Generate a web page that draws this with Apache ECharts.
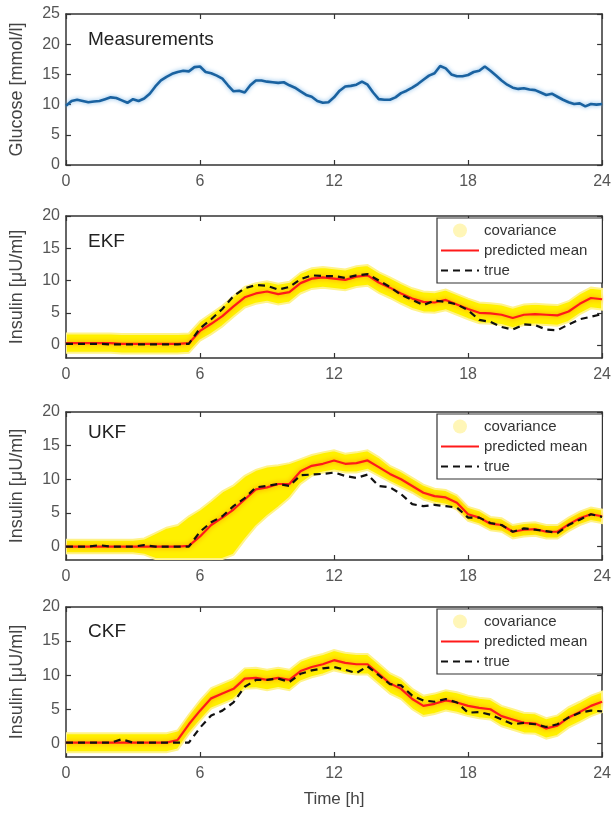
<!DOCTYPE html>
<html><head><meta charset="utf-8">
<script src="https://cdn.jsdelivr.net/npm/echarts@6/dist/echarts.min.js"></script>
<style>html,body{margin:0;padding:0;background:#fff}#c{width:614px;height:820px}</style>
</head><body><div id="c"></div>
<script>
// ---------------- DATA ----------------
const timeQ = [0,0.25,0.5,0.75,1,1.25,1.5,1.75,2,2.25,2.5,2.75,3,3.25,3.5,3.75,4,4.25,4.5,4.75,5,5.25,5.5,5.75,6,6.25,6.5,6.75,7,7.25,7.5,7.75,8,8.25,8.5,8.75,9,9.25,9.5,9.75,10,10.25,10.5,10.75,11,11.25,11.5,11.75,12,12.25,12.5,12.75,13,13.25,13.5,13.75,14,14.25,14.5,14.75,15,15.25,15.5,15.75,16,16.25,16.5,16.75,17,17.25,17.5,17.75,18,18.25,18.5,18.75,19,19.25,19.5,19.75,20,20.25,20.5,20.75,21,21.25,21.5,21.75,22,22.25,22.5,22.75,23,23.25,23.5,23.75,24];
const glucose = [9.8,10.6,10.8,10.6, 10.4,10.5,10.6,10.9, 11.2,11.1,10.7,10.3, 10.9,10.6,11.0,11.8, 13.0,14.0,14.6,15.1, 15.4,15.6,15.5,16.2, 16.3,15.4,15.2,14.8, 14.3,13.2,12.2,12.3, 12.0,13.2,14.0,14.0, 13.8,13.7,13.6,13.7, 13.2,12.8,12.2,11.6, 11.3,10.6,10.3,10.4, 11.2,12.3,13.0,13.1, 13.3,13.8,13.3,12.0, 10.9,10.8,10.8,11.2, 11.9,12.3,12.8,13.4, 14.1,14.8,15.2,16.4, 16.0,15.0,14.7,14.7, 14.9,15.4,15.6,16.3, 15.6,14.8,14.0,13.3, 12.8,12.6,12.7,12.5, 12.4,12.0,11.6,11.8, 11.3,10.8,10.4,10.1, 10.2,9.7,10.1,10.0, 10.1];

const timeH = [0,0.5,1,1.5,2,2.5,3,3.5,4,4.5,5,5.5,6,6.5,7,7.5,8,8.5,9,9.5,10,10.5,11,11.5,12,12.5,13,13.5,14,14.5,15,15.5,16,16.5,17,17.5,18,18.5,19,19.5,20,20.5,21,21.5,22,22.5,23,23.5,24];

const ekfMean = [0.3,0.3,0.3,0.3,0.3,0.2,0.2,0.2,0.2,0.2,0.2,0.3, 2.2,3.3,4.5,6.0,7.4,8.0,8.3,7.9,8.2,9.6,10.3,10.5, 10.3,10.1,10.6,10.8,9.7,8.9,8.0,7.2,6.7,6.6,7.0,6.3, 5.6,5.0,4.9,4.7,4.2,4.7,4.8,4.7,4.6,5.2,6.4,7.3, 7.1];
const ekfTrue = [0.2,0.2,0.2,0.2,0.1,0.1,0.1,0.1,0.1,0.1,0.1,0.2, 2.6,4.0,5.6,7.6,8.8,9.3,9.2,8.6,9.0,10.2,10.8,10.7, 10.7,10.4,10.8,11.0,10.0,9.0,7.8,7.0,6.2,6.9,6.7,6.3, 5.4,3.9,3.6,2.8,2.4,3.2,3.1,2.4,2.3,3.2,4.0,4.4, 4.8];
const ekfCovHalf = [1.5,1.5,1.5,1.5,1.5,1.5,1.5,1.5,1.5,1.5,1.5,1.5, 1.5,1.6,1.6,1.6,1.6,1.6,1.6,1.6,1.6,1.6,1.6,1.6, 1.6,1.6,1.6,1.6,1.6,1.6,1.6,1.6,1.6,1.6,1.6,1.6, 1.6,1.6,1.6,1.6,1.6,1.6,1.6,1.6,1.6,1.6,1.6,1.6, 1.6];

const ukfMean = [0.0,0.0,0.0,0.0,0.0,0.0,0.0,0.0,0.0,0.0,0.0,0.1, 1.5,3.2,4.3,5.5,7.0,8.5,8.8,9.3,9.3,11.2,12.0,12.3, 12.8,12.3,12.4,12.8,11.8,10.8,10.0,9.0,8.0,7.5,7.3,6.5, 4.8,4.3,3.4,3.2,2.2,2.5,2.6,2.2,2.2,3.3,4.2,4.8, 4.5];
const ukfTrue = [0.0,0.0,0.0,0.2,0.0,0.0,0.0,0.2,0.0,0.0,0.0,0.0, 2.2,3.6,4.5,6.0,7.2,8.8,9.0,9.3,9.0,10.6,10.7,10.8, 11.0,10.5,10.2,10.7,9.0,8.8,7.8,6.3,6.0,6.2,6.0,5.8, 4.3,4.3,3.5,3.2,2.2,2.7,2.5,2.3,2.0,3.2,4.0,4.8, 4.4];
const ukfCovLow = [-1.0,-1.0,-1.0,-1.0,-1.0,-1.0,-1.0,-1.2,-2.0,-2.5,-3.0,-3.0, -3.0,-2.5,-2.0,-1.2,1.0,3.0,4.5,5.8,7.2,9.3,10.5,11.0, 11.3,11.0,11.0,11.4,10.5,9.6,8.8,8.0,7.0,6.5,6.2,5.5, 3.8,3.3,2.4,2.2,1.2,1.5,1.6,1.2,1.2,2.3,3.2,3.8, 3.5];
const ukfCovHigh = [1.0,1.0,1.0,1.0,1.0,1.0,1.0,1.2,2.0,2.8,3.2,4.5, 5.5,6.8,8.2,9.1,10.5,11.4,11.9,12.1,12.4,13.0,13.6,14.0, 14.3,13.8,14.0,14.3,13.3,12.0,11.2,10.2,9.2,8.6,8.4,7.6, 5.9,5.4,4.4,4.2,3.2,3.5,3.6,3.2,3.2,4.3,5.2,5.8, 5.5];

const ckfMean = [0.1,0.1,0.1,0.1,0.1,0.1,0.1,0.1,0.1,0.1,0.5,2.8, 4.8,6.6,7.3,8.0,9.5,9.6,9.3,9.6,9.3,10.6,11.2,11.6, 12.2,11.8,11.6,11.6,10.2,8.8,8.0,6.5,5.5,5.8,6.3,6.0, 5.5,5.2,5.0,4.0,3.5,3.0,2.9,2.2,2.6,3.8,4.6,5.5, 6.1];
const ckfTrue = [0.1,0.1,0.1,0.1,0.1,0.6,0.1,0.1,0.1,0.1,0.1,0.1, 2.3,4.1,4.8,6.0,8.3,9.3,9.3,9.5,9.0,10.2,10.7,11.0, 11.2,10.8,10.3,11.3,10.0,8.7,8.5,7.0,6.3,6.1,6.5,6.0, 4.5,4.6,4.2,3.5,2.8,3.0,2.8,2.4,2.8,3.8,4.5,4.8, 4.7];
const ckfCovHalf = [1.4,1.4,1.4,1.4,1.4,1.4,1.4,1.4,1.4,1.4,1.4,1.4, 1.5,1.5,1.5,1.5,1.5,1.5,1.5,1.5,1.5,1.5,1.5,1.5, 1.5,1.5,1.5,1.5,1.5,1.5,1.5,1.5,1.5,1.5,1.5,1.5, 1.5,1.5,1.5,1.5,1.5,1.5,1.5,1.5,1.5,1.5,1.5,1.5, 1.5];

const xTicks = [0, 6, 12, 18, 24];
const glucoseTicks = [0, 5, 10, 15, 20, 25];
const insulinTicks = [0, 5, 10, 15, 20];
const panelTitles = ['Measurements', 'EKF', 'UKF', 'CKF'];
const glucoseLabel = 'Glucose [mmol/l]';
const insulinLabel = 'Insulin [\u03bcU/ml]';
const timeLabel = 'Time [h]';
const legendNames = ['covariance', 'predicted mean', 'true'];

// ---------------- CHART ----------------
const FONT = '"Liberation Sans", Arial, Helvetica, sans-serif';
const AX = '#333333';
const chart = echarts.init(document.getElementById('c'), null, { renderer: 'canvas' });

const grids = [
  { left: 66, right: 9, top: 14, height: 151 },
  { left: 66, right: 9, top: 216, height: 142 },
  { left: 66, right: 9, top: 412, height: 148 },
  { left: 66, right: 9, top: 607, height: 150 }
];
const titleTops = [30, 232, 423, 622];
const legendTops = [218, 414, 609];

const pair = (xs, ys) => xs.map((x, i) => [x, ys[i]]);
const axisLine = { show: true, onZero: false, lineStyle: { color: AX, width: 1.5 } };
const tick = (vals) => ({ show: true, inside: true, length: 5, lineStyle: { color: AX, width: 1.2 }, customValues: vals });
const lab = { color: '#555', fontSize: 16, fontFamily: FONT };

const xAxes = [], yAxes = [], series = [], titles = [], legends = [];

grids.forEach((g, i) => {
  const isG = i === 0;
  const yt = isG ? glucoseTicks : insulinTicks;
  xAxes.push({
    gridIndex: i, type: 'value', min: xTicks[0], max: xTicks[xTicks.length - 1], interval: 6,
    position: 'bottom', axisLine, axisTick: { show: true, inside: true, length: 5, lineStyle: { color: AX, width: 1.2 } },
    axisLabel: Object.assign({ margin: 9 }, lab), splitLine: { show: false },
    name: i === 3 ? timeLabel : '', nameLocation: 'middle', nameGap: 34,
    nameTextStyle: { color: '#444', fontSize: 17, fontFamily: FONT }
  });
  xAxes.push({
    gridIndex: i, type: 'value', min: 0, max: 24, interval: 6, position: 'top',
    axisLine, axisTick: { show: true, inside: true, length: 5, lineStyle: { color: AX, width: 1.2 } },
    axisLabel: { show: false }, splitLine: { show: false }
  });
  yAxes.push({
    gridIndex: i, type: 'value', min: isG ? 0 : -2, max: isG ? 25 : 20,
    position: 'left', axisLine, axisTick: tick(yt),
    axisLabel: Object.assign({ margin: 6, customValues: yt }, lab), splitLine: { show: false },
    name: isG ? glucoseLabel : insulinLabel, nameLocation: 'middle', nameGap: 40,
    nameTextStyle: { color: '#444', fontSize: 18, fontFamily: FONT }
  });
  yAxes.push({
    gridIndex: i, type: 'value', min: isG ? 0 : -2, max: isG ? 25 : 20,
    position: 'right', axisLine, axisTick: tick(yt),
    axisLabel: { show: false, customValues: yt }, splitLine: { show: false }
  });
  titles.push({
    text: panelTitles[i], left: 88, top: titleTops[i], padding: 0,
    textStyle: { fontSize: 19, fontWeight: 'normal', color: '#222', fontFamily: FONT }
  });
});

// glucose
series.push({
  type: 'line', name: 'glucose', xAxisIndex: 0, yAxisIndex: 0, data: pair(timeQ, glucose),
  symbol: 'none', lineStyle: { color: '#1a62a0', width: 2.6, shadowBlur: 4, shadowColor: 'rgba(110,175,230,0.9)' }, z: 3
});

const filters = [
  { mean: ekfMean, tru: ekfTrue, low: ekfMean.map((m, k) => m - ekfCovHalf[k]), high: ekfMean.map((m, k) => m + ekfCovHalf[k]) },
  { mean: ukfMean, tru: ukfTrue, low: ukfCovLow, high: ukfCovHigh },
  { mean: ckfMean, tru: ckfTrue, low: ckfMean.map((m, k) => m - ckfCovHalf[k]), high: ckfMean.map((m, k) => m + ckfCovHalf[k]) }
];

function bandRenderer(low, high) {
  return function (params, api) {
    if (params.dataIndex !== 0) return null;
    const top = [], bot = [];
    for (let k = 0; k < timeH.length; k++) {
      top.push(api.coord([timeH[k], high[k]]));
      bot.push(api.coord([timeH[k], low[k]]));
    }
    const cs = params.coordSys;
    const rect = { x: cs.x, y: cs.y + 1, width: cs.width, height: cs.height - 2 };
    const pts = echarts.graphic.clipPointsByRect(top.concat(bot.reverse()), rect);
    return {
      type: 'polygon', shape: { points: pts },
      style: { fill: '#fff000', stroke: '#fff38a', lineWidth: 2 }
    };
  };
}

filters.forEach((f, j) => {
  const gi = j + 1, xi = gi * 2, yi = gi * 2;
  series.push({
    type: 'custom', name: 'covariance', xAxisIndex: xi, yAxisIndex: yi, clip: true,
    data: timeH.map((t, k) => [t, f.low[k], f.high[k]]),
    encode: { x: 0, y: [1, 2] },
    renderItem: bandRenderer(f.low, f.high), itemStyle: { color: '#fff6b8' }, silent: true, z: 1
  });
  series.push({
    type: 'line', name: 'predicted mean', xAxisIndex: xi, yAxisIndex: yi, data: pair(timeH, f.mean),
    symbol: 'none', itemStyle: { color: '#ff1a1a' },
    lineStyle: { color: '#ff1a1a', width: 2.2, shadowBlur: 5, shadowColor: 'rgba(255,130,0,0.95)' }, z: 2
  });
  series.push({
    type: 'line', name: 'true', xAxisIndex: xi, yAxisIndex: yi, data: pair(timeH, f.tru),
    symbol: 'none', itemStyle: { color: '#111' },
    lineStyle: { color: '#111', width: 2.2, type: [7, 5] }, z: 3
  });
  legends.push({
    orient: 'vertical', left: 437, top: legendTops[j], itemWidth: 38, itemHeight: 14, itemGap: 5,
    padding: [5, 15, 5, 3], backgroundColor: '#fff', borderColor: AX, borderWidth: 1.2, borderRadius: 0,
    selectedMode: false, textStyle: { fontSize: 15, color: '#333', fontFamily: FONT },
    data: [
      { name: legendNames[0], icon: 'circle', itemStyle: { color: '#fff6b8' } },
      { name: legendNames[1], itemStyle: { color: 'rgba(0,0,0,0)', borderWidth: 0 } },
      { name: legendNames[2], itemStyle: { color: 'rgba(0,0,0,0)', borderWidth: 0 } }
    ]
  });
});

chart.setOption({
  animation: false,
  backgroundColor: '#fff',
  textStyle: { fontFamily: FONT },
  title: titles,
  legend: legends,
  grid: grids,
  xAxis: xAxes,
  yAxis: yAxes,
  series
});
</script>
</body></html>
